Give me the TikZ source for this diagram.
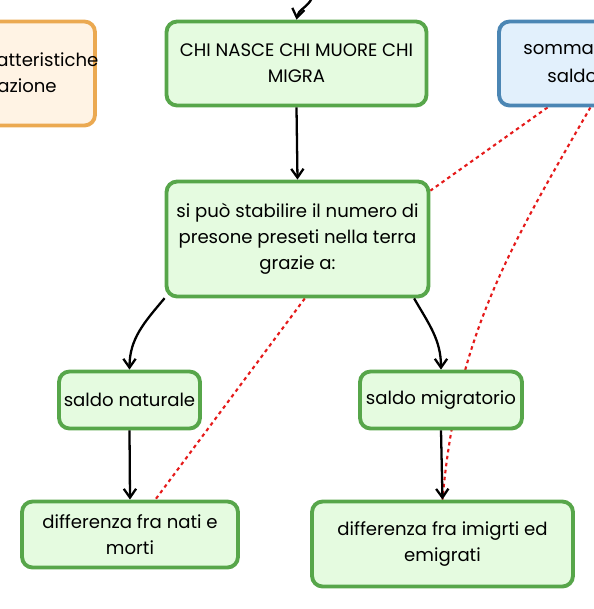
\documentclass[tikz,border=0pt]{standalone}
\usepackage{fontspec}
\setmainfont{Poppins}
\usetikzlibrary{arrows.meta, backgrounds}
\definecolor{box-green}{HTML}{57A64A}
\definecolor{fill-green}{HTML}{E5FBE0}
\definecolor{box-orange}{HTML}{EBA951}
\definecolor{fill-orange}{HTML}{FFF3E4}
\definecolor{box-blue}{HTML}{4B86B4}
\definecolor{fill-blue}{HTML}{E2F0FC}
\definecolor{link-red}{HTML}{E51A1A}

\begin{document}
\begin{tikzpicture}[x=0.02cm, y=-0.02cm,
        every node/.style={font=\fontsize{10.3}{14.7}\selectfont},
        concept/.style={draw=box-green, fill=fill-green, line width=2.2pt,
            rounded corners=6pt, align=center, inner sep=2pt},
        sidebox/.style={line width=2.2pt, rounded corners=6pt},
        cuttext/.style={anchor=west, inner sep=0pt},
        flow/.style={-{Straight Barb[length=5pt,width=7pt]}, line width=1.3pt},
        crosslink/.style={draw=link-red, line width=1.2pt,
            dash pattern=on 2pt off 2pt}]
      \useasboundingbox (0,0) rectangle (594,609);
      \clip (0,0) rectangle (594,609);
      % boxes cut by the border
      \node[cuttext] (ORTXT1) at (-4,60) {atteristiche};
      \node[cuttext] (ORTXT2) at (-3,86) {azione};
      \begin{scope}[on background layer]
        \node[sidebox, draw=box-orange, fill=fill-orange,
              minimum width=2.5cm, minimum height=2.08cm] (ORANGE) at (32.5,73.5) {};
      \end{scope}
      \node[sidebox, draw=box-blue, fill=fill-blue,
            minimum width=2.8cm, minimum height=1.68cm] (BLUE) at (569,63.5) {};
      \node[cuttext] (BLTXT1) at (523,50) {sommar};
      \node[cuttext] (BLTXT2) at (547,76) {saldo};
      % concept boxes
      \node[concept, minimum width=5.2cm, minimum height=1.68cm]
            (CHI) at (296.5,63.5) {CHI NASCE CHI MUORE CHI\\MIGRA};
      \node[concept, minimum width=5.24cm, minimum height=2.3cm]
            (STAB) at (297.5,239) {si può stabilire il numero di\\presone preseti nella terra\\grazie a:};
      \node[concept, minimum width=2.82cm, minimum height=1.14cm]
            (NAT) at (129.5,400) {saldo naturale};
      \node[concept, minimum width=3.24cm, minimum height=1.14cm]
            (MIG) at (441,400) {saldo migratorio};
      \node[concept, minimum width=4.32cm, minimum height=1.32cm]
            (DNAT) at (130,534.5) {differenza fra nati e\\morti};
      \node[concept, minimum width=5.22cm, minimum height=1.7cm]
            (DMIG) at (442.5,544) {differenza fra imigrti ed\\emigrati};
      \coordinate (TOPIN) at (312,-2);
      % arrows
      \draw[flow] (TOPIN) to[out=245, in=80] (CHI.north);
      \draw[flow] (CHI.south) -- (STAB.north);
      \draw[flow] (STAB.204) to[out=230, in=90] (NAT.north);
      \draw[flow] (STAB.333) to[out=-60, in=90] (MIG.north);
      \draw[flow] (NAT.south) -- (DNAT.north);
      \draw[flow] (MIG.south) -- (DMIG.north);
      % red dotted links
      \begin{scope}[on background layer]
        \draw[crosslink] (BLUE.244) -- (STAB.20);
        \draw[crosslink] (BLUE.296) to[out=240, in=85] (DMIG.north);
        \draw[crosslink] (STAB.277) -- (DNAT.54);
      \end{scope}
    \end{tikzpicture}
\end{document}
